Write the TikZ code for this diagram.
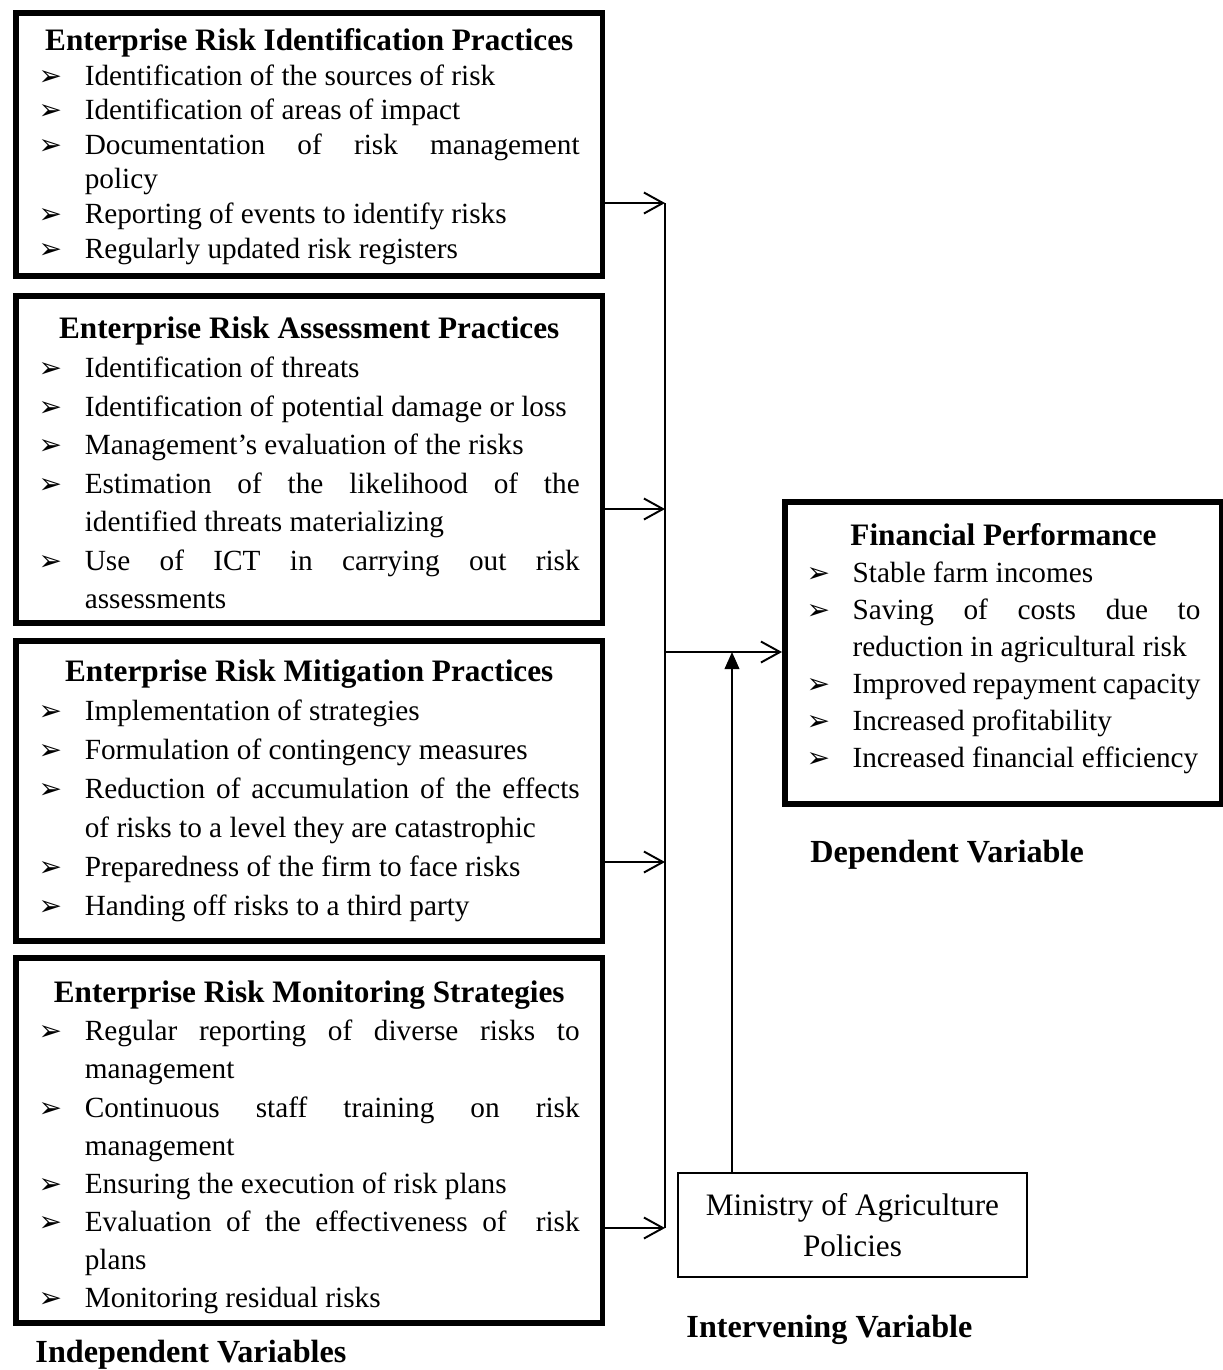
\documentclass[tikz,border=0pt]{standalone}
\usepackage{fontspec}
\setmainfont{Liberation Serif}
\newfontfamily\bulfont{DejaVu Sans}
\usetikzlibrary{arrows.meta}

\newcommand{\bul}{{\bulfont\fontsize{11.5}{11.5}\selectfont ➢}}
\newcommand{\itm}[1]{\par\hangindent=18.9pt\hangafter=1\noindent\makebox[18.9pt][l]{\bul}#1}
\newcommand{\hd}[1]{{\centering\bfseries\fontsize{12.8}{14}\selectfont #1\par}}
% box content: height, width, line distance, items
\newcommand{\varlist}[4]{\parbox[t][#1][t]{#2}{\fontsize{12}{#3}\selectfont
  \hyphenpenalty=10000\exhyphenpenalty=10000\hbadness=10000 #4}}

\tikzset{
  ivbox/.style={draw, line width=2.3pt, inner xsep=9.4pt, anchor=north west},
  dvbox/.style={draw, line width=2.3pt, inner xsep=8.9pt, anchor=north west},
  mvbox/.style={draw, line width=0.8pt, align=center, minimum width=143.1pt, minimum height=42.6pt, font=\fontsize{12.8}{16.8}\selectfont},
  varlabel/.style={anchor=base west, inner sep=0pt, font=\bfseries\fontsize{13.2}{15}\selectfont},
  conn/.style={line width=0.8pt},
}

\begin{document}
\begin{tikzpicture}[x=0.41pt, y=-0.41pt, >={Straight Barb[length=7.8pt,width=8.6pt]}]
  \useasboundingbox (0,0) rectangle (1223,1370);

  % independent variables
  \node[ivbox, inner ysep=6.4pt] (ident) at (13,10) {\varlist{95pt}{221.8pt}{14.2pt}{
    \hd{Enterprise Risk Identification Practices}
    \itm{Identification of the sources of risk}
    \itm{Identification of areas of impact}
    \itm{Documentation of risk management\linebreak policy}
    \itm{Reporting of events to identify risks}
    \itm{Regularly updated risk registers}}};

  \node[ivbox, inner ysep=8.8pt] (assess) at (13,293) {\varlist{116.5pt}{221.8pt}{15.8pt}{
    \hd{Enterprise Risk Assessment Practices}
    \itm{Identification of threats}
    \itm{Identification of potential damage or loss}
    \itm{Management’s evaluation of the risks}
    \itm{Estimation of the likelihood of the\linebreak identified threats materializing}
    \itm{Use of ICT in carrying out risk\linebreak assessments}}};

  \node[ivbox, inner ysep=7.9pt] (mitig) at (13,638) {\varlist{107.2pt}{221.8pt}{16pt}{
    \hd{Enterprise Risk Mitigation Practices}
    \itm{Implementation of strategies}
    \itm{Formulation of contingency measures}
    \itm{Reduction of accumulation of the effects\linebreak of risks to a level they are catastrophic}
    \itm{Preparedness of the firm to face risks}
    \itm{Handing off risks to a third party}}};

  \node[ivbox, inner ysep=9.6pt] (monit) at (13,955) {\varlist{130.5pt}{221.8pt}{15.6pt}{
    \hd{Enterprise Risk Monitoring Strategies}
    \itm{Regular reporting of diverse risks to\linebreak management}
    \itm{Continuous staff training on risk\linebreak management}
    \itm{Ensuring the execution of risk plans}
    \itm{Evaluation of the effectiveness of~ risk\linebreak plans}
    \itm{Monitoring residual risks}}};

  % dependent variable
  \node[dvbox, inner ysep=8.8pt] (fin) at (782,499) {\varlist{106.2pt}{161.5pt}{15.2pt}{
    \hd{Financial Performance}
    \itm{Stable farm incomes}
    \itm{Saving of costs due to\linebreak \mbox{reduction in agricultural risk}}
    \itm{Improved repayment capacity}
    \itm{Increased profitability}
    \itm{Increased financial efficiency}}};

  % intervening variable
  \node[mvbox] (min) at (852.5,1225) {Ministry of Agriculture\\Policies};

  \node[varlabel] (deplbl) at (810,862) {Dependent Variable};
  \node[varlabel] (intlbl) at (686,1337) {Intervening Variable};
  \node[varlabel] (indlbl) at (35,1362) {Independent Variables};

  \coordinate (j1) at (665,203);
  \coordinate (j2) at (665,509);
  \coordinate (j3) at (665,862);
  \coordinate (j4) at (665,1228);
  \coordinate (jm) at (665,652);
  \coordinate (ju) at (732,652);

  \draw[conn, ->] (ident.east |- j1) -- (j1);
  \draw[conn, ->] (assess.east |- j2) -- (j2);
  \draw[conn, ->] (mitig.east |- j3) -- (j3);
  \draw[conn, ->] (monit.east |- j4) -- (j4);
  \draw[line width=0.6pt] (j1) -- (j4);
  \draw[conn, ->] (jm) -- (fin.west |- jm);
  \draw[conn, -{Triangle[length=7pt,width=6pt]}] (min.north -| ju) -- (ju);
\end{tikzpicture}
\end{document}
